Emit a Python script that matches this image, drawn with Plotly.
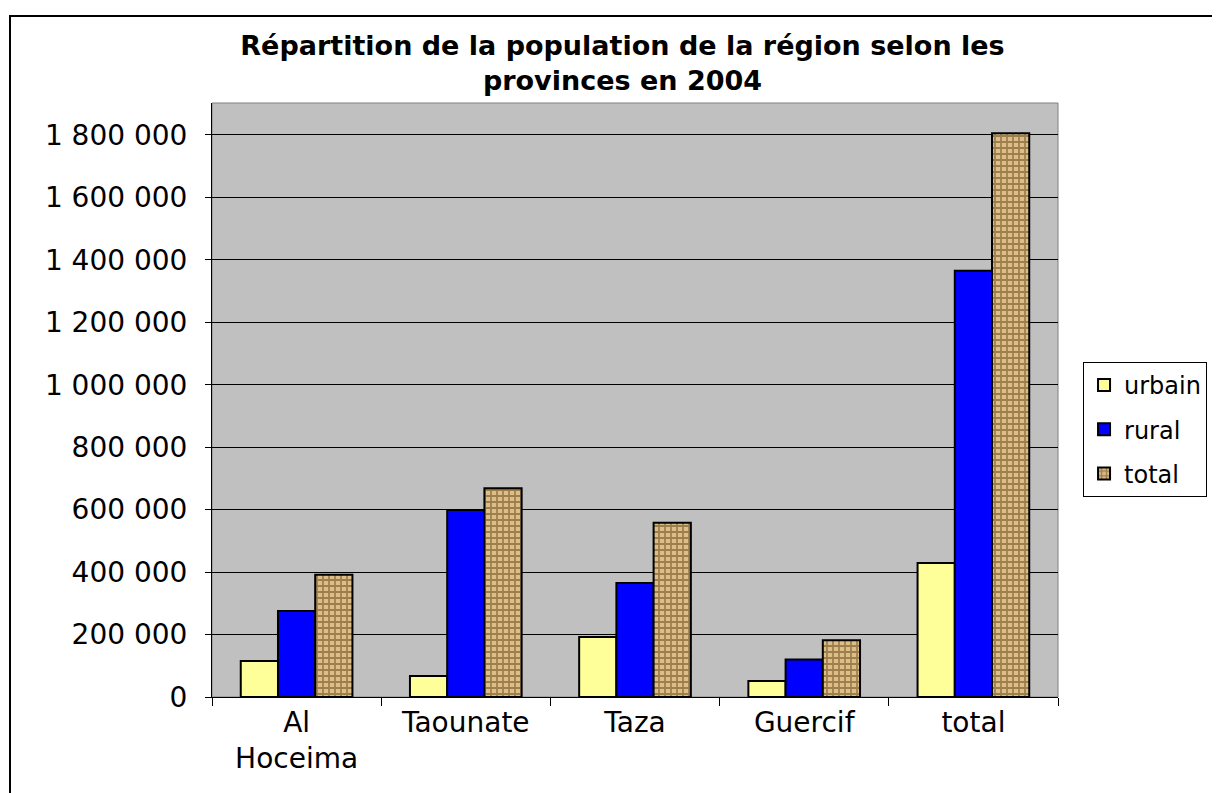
import plotly.graph_objects as go

# Population par province, 2004
provinces = ["Al<br>Hoceima", "Taounate", "Taza", "Guercif", "total"]
urbain = [115500, 67500, 192500, 51000, 429000]
rural = [275000, 599000, 365000, 120000, 1365000]
total = [391500, 668500, 558000, 181500, 1805000]

yticks = list(range(0, 1800001, 200000))

font = "DejaVu Sans, Arial, sans-serif"
edge = dict(color="black", width=2)

fig = go.Figure()
fig.add_trace(go.Bar(x=provinces, y=urbain, name="urbain", legendgroup="u",
                     marker=dict(color="#FFFF99", line=edge)))
fig.add_trace(go.Bar(x=provinces, y=rural, name="rural", legendgroup="r",
                     marker=dict(color="#0000FF", line=edge)))
fig.add_trace(go.Bar(x=provinces, y=total, name="total", legendgroup="t",
                     marker=dict(color="#C9A46A", line=edge,
                                 pattern=dict(shape="+", fgcolor="#5E3F14", bgcolor="#DDBE88",
                                              size=6, solidity=0.5))))

# the page body adds 8px, so the figure is 8px smaller than the window
fig.update_layout(
    width=1212, height=785,
    paper_bgcolor="white",
    plot_bgcolor="#C0C0C0",
    font=dict(family=font, size=28, color="black"),
    separators=". ",
    title=dict(text="<b>Répartition de la population de la région selon les<br>provinces en 2004</b>",
               x=0.507, xanchor="center", yref="container", y=0.94, yanchor="top",
               font=dict(size=27, family=font)),
    margin=dict(l=204, r=162, t=95, b=96, autoexpand=False),
    barmode="group", bargap=0.34, bargroupgap=0,
    showlegend=True,
    legend=dict(x=1.0296, xanchor="left", y=0.564, yanchor="top",
                bordercolor="black", borderwidth=1, bgcolor="white",
                font=dict(size=24), tracegroupgap=10, traceorder="grouped",
                itemwidth=30),
    xaxis=dict(showline=True, linecolor="black", linewidth=1, ticks="outside",
               tickson="boundaries", ticklen=8, tickcolor="black",
               showgrid=False, tickfont=dict(size=28)),
    yaxis=dict(range=[0, 1902000], tickvals=yticks, tickformat=",d",
               showline=True, linecolor="black", linewidth=1, ticks="outside",
               ticklen=6, tickcolor="black", gridcolor="black", gridwidth=1,
               zeroline=False, tickfont=dict(size=28), ticklabelstandoff=12),
    shapes=[dict(type="rect", xref="paper", yref="paper", x0=0, x1=1.0,
                 y0=0, y1=1, line=dict(color="#808080", width=1), layer="below"),
            dict(type="rect", xref="paper", yref="paper",
                 x0=(2 - 204) / 846, x1=(1210 - 204) / 846,
                 y0=-1.0, y1=(689 - 8) / 594,
                 line=dict(color="black", width=2))],
)

fig.write_html("out.html")
